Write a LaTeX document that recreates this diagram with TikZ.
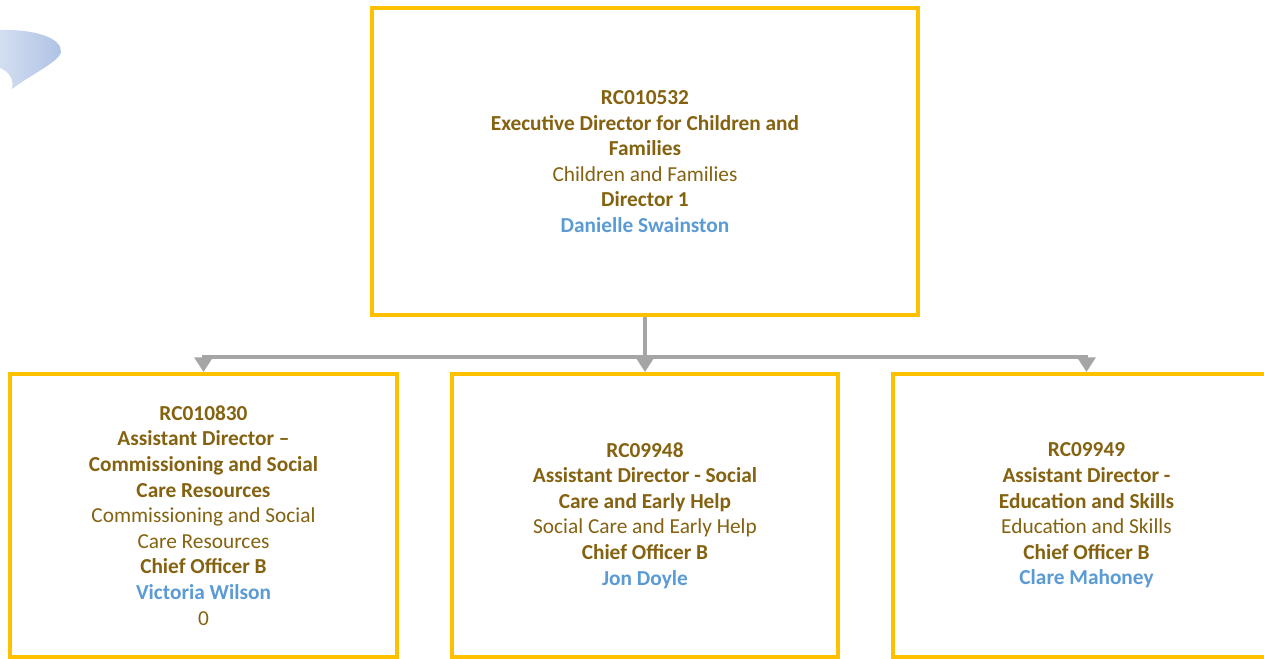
\documentclass[tikz,border=0pt]{standalone}
\usepackage{fontspec}
\setmainfont{Carlito}
\usetikzlibrary{arrows.meta}

\definecolor{boxgold}{HTML}{FFC000}
\definecolor{titlegold}{HTML}{846210}
\definecolor{namblue}{HTML}{5B9BD5}
\definecolor{connGray}{HTML}{A5A5A5}
\definecolor{blobLight}{HTML}{D3DEF1}
\definecolor{blobDark}{HTML}{AFC2E5}

\tikzset{
  post/.style={draw=boxgold, line width=3pt, fill=white, align=center,
    text=titlegold, font=\fontsize{16pt}{19.2pt}\selectfont,
    minimum height=283\pxu, inner sep=0pt},
  conn/.style={draw=connGray, line width=2.4pt,
    -{Triangle[length=11pt, width=13.5pt]}}
}
\newlength{\pxu}
\setlength{\pxu}{0.75pt}
\newcommand{\who}[1]{\textbf{\textcolor{namblue}{#1}}}

\begin{document}
\begin{tikzpicture}[x=0.75pt, y=-0.75pt]
  \useasboundingbox (0,0) rectangle (1264,659);

  % faded callout in the corner
  \shade[left color=blobLight, right color=blobDark]
    (0,30) .. controls (35,29) and (62,38) .. (61,52)
    .. controls (59,62) and (30,75) .. (12,89)
    .. controls (14,80) and (10,72) .. (0,68) -- cycle;

  \node[post, minimum width=546\pxu, minimum height=307\pxu] (exec) at (645,161.5)
    {\textbf{RC010532}\\ \textbf{Executive Director for Children and}\\ \textbf{Families}\\
     Children and Families\\ \textbf{Director 1}\\ \who{Danielle Swainston}};

  \node[post, minimum width=387\pxu] (adcom) at (203.5,515.5)
    {\textbf{RC010830}\\ \textbf{Assistant Director –}\\ \textbf{Commissioning and Social}\\
     \textbf{Care Resources}\\ Commissioning and Social\\ Care Resources\\
     \textbf{Chief Officer B}\\ \who{Victoria Wilson}\\ 0};
  \node[post, minimum width=386\pxu] (adsoc) at (645,515.5)
    {\textbf{RC09948}\\ \textbf{Assistant Director - Social}\\ \textbf{Care and Early Help}\\
     Social Care and Early Help\\ \textbf{Chief Officer B}\\ \who{Jon Doyle}};
  \node[post, minimum width=387\pxu] (adedu) at (1086.5,515.5)
    {\textbf{RC09949}\\ \textbf{Assistant Director -}\\ \textbf{Education and Skills}\\
     Education and Skills\\ \textbf{Chief Officer B}\\ \who{Clare Mahoney}};

  \coordinate (split) at (645,357);
  \draw[draw=connGray, line width=2.4pt] (exec.south) -- (split);
  \foreach \kid in {adcom,adsoc,adedu}
    \draw[conn] (split) -| (\kid.north);
\end{tikzpicture}
\end{document}
